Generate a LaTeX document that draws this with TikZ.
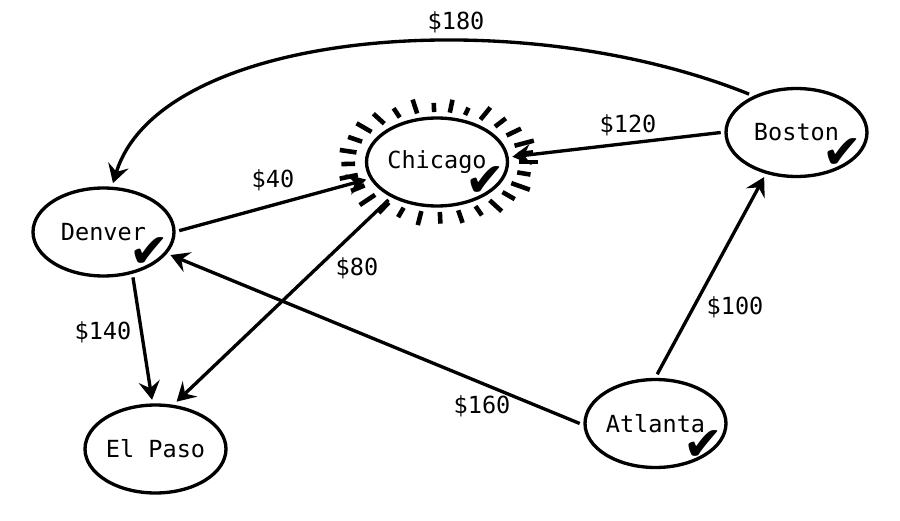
\documentclass[tikz,border=0pt]{standalone}
\usepackage{fontspec}
\setmonofont{DejaVu Sans Mono}
\newfontfamily\checkfont{DejaVu Sans}
\usetikzlibrary{arrows.meta,shapes.geometric}
\tikzset{
  city/.style={draw, ellipse, line width=1.9pt, minimum width=2.82cm, minimum height=1.76cm,
    inner sep=0pt, outer sep=3pt, font=\ttfamily\fontsize{13.4}{16}\selectfont},
  road/.style={line width=1.9pt, -{Stealth[length=10.5pt,width=12pt,inset=3.8pt]}},
  cost/.style={font=\ttfamily\fontsize{13.4}{16}\selectfont, inner sep=1pt},
  done/.style={font=\checkfont\fontsize{27}{27}\selectfont, inner sep=0pt},
  glow/.style={line width=2.6pt}
}

\begin{document}
\begin{tikzpicture}[x=0.02cm,y=-0.02cm]
\useasboundingbox (0,0) rectangle (900,521);

\node[city] (denver) at (103.5,232) {Denver};
\node[city] (chicago) at (437,162) {Chicago};
\node[city] (boston) at (796.5,132.5) {Boston};
\node[city] (elpaso) at (155.5,449) {El Paso};
\node[city] (atlanta) at (655.5,423.5) {Atlanta};

\node[done] (denver-ok) at ([shift={(46,21)}]denver.center) {✔};
\node[done] (chicago-ok) at ([shift={(48,20)}]chicago.center) {✔};
\node[done] (boston-ok) at ([shift={(46,21)}]boston.center) {✔};
\node[done] (atlanta-ok) at ([shift={(48,22)}]atlanta.center) {✔};

\foreach \a/\l in {0/1.1, 12/0.8, 25/1.2, 37/0.9, 50/1.1, 62/0.8, 75/1.0, 88/0.9, 101/1.1,
  114/0.8, 126/1.0, 139/1.2, 152/0.9, 165/1.1, 178/0.8, 191/1.0, 204/0.9, 217/1.1,
  230/1.0, 243/0.8, 256/1.1, 268/0.7, 279/1.0, 290/0.6, 302/1.1, 315/0.9,
  328/1.0, 341/1.2, 351/0.9}
  \draw[glow] ([shift={(\a:82 and 50)}]chicago.center) -- ([shift={(\a:{82+17*\l} and {50+13*\l})}]chicago.center);

\draw[road] (denver.1) -- (chicago.194);
\draw[road] (boston.180) -- (chicago.4);
\draw[road] (boston.141) .. controls (515,0) and (160,30) .. (denver.79);
\draw[road] (denver.303) -- (elpaso.94);
\draw[road] (chicago.218) -- (elpaso.66);
\draw[road] (atlanta.180) -- (denver.341);
\draw[road] (atlanta.88) -- (boston.234);

\node[cost] (c180) at (456,22) {\$180};
\node[cost] (c120) at (628,125) {\$120};
\node[cost] (c40) at (273,180) {\$40};
\node[cost] (c80) at (357,268) {\$80};
\node[cost] (c140) at (103,332) {\$140};
\node[cost] (c160) at (482,406) {\$160};
\node[cost] (c100) at (735,307) {\$100};
\end{tikzpicture}
\end{document}
